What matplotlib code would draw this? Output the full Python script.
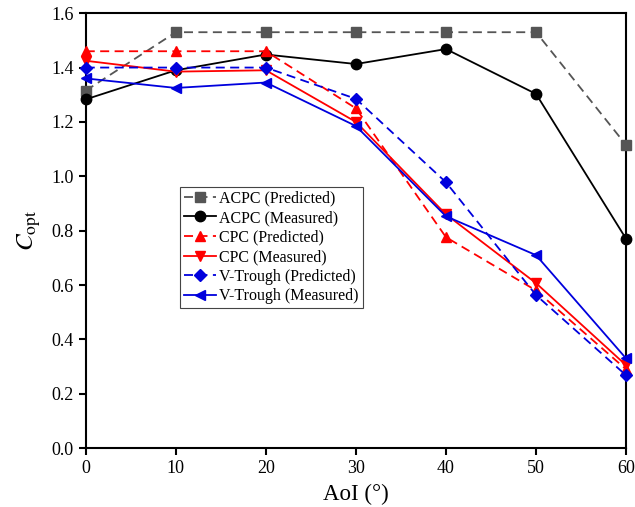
import matplotlib
matplotlib.use("Agg")
import matplotlib.pyplot as plt

plt.rcParams['font.family'] = ['Liberation Serif', 'DejaVu Serif']
plt.rcParams['mathtext.fontset'] = 'stix'

aoi = [0, 10, 20, 30, 40, 50, 60]
acpc_pred = [1.315, 1.53, 1.53, 1.53, 1.53, 1.53, 1.115]
acpc_meas = [1.283, 1.39, 1.448, 1.413, 1.468, 1.303, 0.77]
cpc_pred = [1.46, 1.46, 1.46, 1.25, 0.776, 0.58, 0.29]
cpc_meas = [1.425, 1.385, 1.39, 1.20, 0.86, 0.607, 0.305]
vt_pred = [1.40, 1.40, 1.40, 1.285, 0.978, 0.563, 0.268]
vt_meas = [1.36, 1.325, 1.345, 1.185, 0.853, 0.71, 0.33]

fig = plt.figure(figsize=(6.35, 5.07), dpi=100)
ax = fig.add_axes([0.135, 0.116, 0.851, 0.858])

ms = 7.5
ax.plot(aoi, acpc_pred, ls=(0, (5, 3)), color='#555555', marker='s', ms=ms-1, lw=1.3, label='ACPC (Predicted)', clip_on=False, zorder=3)
ax.plot(aoi, acpc_meas, ls='-', color='black', marker='o', ms=ms, lw=1.3, label='ACPC (Measured)', clip_on=False, zorder=3)
ax.plot(aoi, cpc_pred, ls=(0, (5, 3)), color='#ff0000', marker='^', ms=ms, lw=1.3, label='CPC (Predicted)', clip_on=False, zorder=3)
ax.plot(aoi, cpc_meas, ls='-', color='#ff0000', marker='v', ms=ms, lw=1.3, label='CPC (Measured)', clip_on=False, zorder=3)
ax.plot(aoi, vt_pred, ls=(0, (5, 3)), color='#0000dd', marker='D', ms=ms-1, lw=1.3, label='V-Trough (Predicted)', clip_on=False, zorder=3)
ax.plot(aoi, vt_meas, ls='-', color='#0000dd', marker='<', ms=ms, lw=1.3, label='V-Trough (Measured)', clip_on=False, zorder=3)

ax.set_xlim(0, 60)
ax.set_ylim(0, 1.6)
ax.set_xticks(aoi)
yt = [0.0, 0.2, 0.4, 0.6, 0.8, 1.0, 1.2, 1.4, 1.6]
ax.set_yticks(yt)
ax.set_yticklabels([f'{v:.1f}' for v in yt])
ax.tick_params(direction='out', length=5, width=1.5, labelsize=13)
for s in ax.spines.values():
    s.set_linewidth(1.5)

ax.set_xlabel('AoI (°)', fontsize=16.5, labelpad=5)
ax.set_ylabel(r'$C_{\rm opt}$', fontsize=18, labelpad=6)

leg = ax.legend(loc='lower left', bbox_to_anchor=(0.175, 0.322), fontsize=11.5,
                frameon=True, fancybox=False, edgecolor='#444444', framealpha=1,
                borderpad=0.25, labelspacing=0.22, handlelength=2.0, handletextpad=0.2,
                borderaxespad=0)
leg.get_frame().set_linewidth(0.8)

fig.savefig('out.png', dpi=100)
